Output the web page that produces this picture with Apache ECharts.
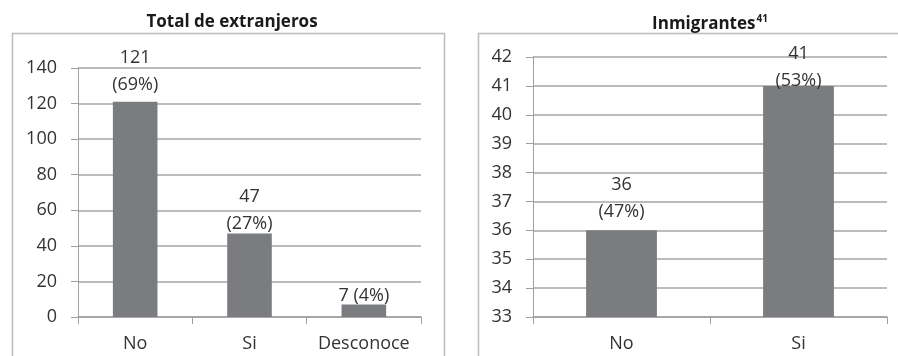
<!DOCTYPE html>
<html>
<head>
<meta charset="utf-8">
<script src="https://cdn.jsdelivr.net/npm/echarts@6/dist/echarts.min.js"></script>
<style>
  html, body { margin: 0; padding: 0; background: #ffffff; }
  #chart { width: 898px; height: 356px; }
</style>
</head>
<body>
<div id="chart"></div>
<script>
// Total de extranjeros
const totalCategories = ['No', 'Si', 'Desconoce'];
const totalValues = [121, 47, 7];
const totalPercents = ['69%', '27%', '4%'];
const totalTicks = { min: 0, max: 140, interval: 20 };

// Inmigrantes
const inmCategories = ['No', 'Si'];
const inmValues = [36, 41];
const inmPercents = ['47%', '53%'];
const inmTicks = { min: 33, max: 42, interval: 1 };

const FONT = 'Open Sans';
const TEXT = '#333333';
const GRID_LINE = '#a6a6a6';
const AXIS_LINE = '#a0a0a0';
const BAR = '#7b7c80';

// label layout: two-line labels except where the value sits low
const totalLabelBreak = ['\n', '\n', ' '];
const totalLabelGap = [3, -4, -5];
const inmLabelBreak = ['\n', '\n'];
const inmLabelGap = [5, -8];

function barData(values, percents, breaks, gaps) {
  return values.map((v, i) => ({
    value: v,
    label: {
      show: true,
      position: 'top',
      distance: gaps[i],
      formatter: v + breaks[i] + '(' + percents[i] + ')'
    }
  }));
}

function yAxis(idx, t) {
  return {
    type: 'value', gridIndex: idx,
    min: t.min, max: t.max, interval: t.interval,
    axisLine: { show: true, lineStyle: { color: AXIS_LINE, width: 1 } },
    axisTick: { show: true, length: 7, lineStyle: { color: AXIS_LINE } },
    axisLabel: { color: TEXT, fontFamily: FONT, fontSize: 18, margin: 21 },
    splitLine: { show: true, lineStyle: { color: GRID_LINE, width: 1.5 } }
  };
}

function xAxis(idx, cats) {
  return {
    type: 'category', gridIndex: idx, data: cats,
    axisLine: { show: true, lineStyle: { color: AXIS_LINE, width: 1.5 } },
    axisTick: { show: true, length: 7, lineStyle: { color: AXIS_LINE } },
    axisLabel: { color: TEXT, fontFamily: FONT, fontSize: 18, margin: 18, interval: 0 }
  };
}

const labelStyle = {
  color: TEXT, fontFamily: FONT, fontSize: 18, lineHeight: 27
};

const chart = echarts.init(document.getElementById('chart'), null, { renderer: 'canvas' });
chart.setOption({
  animation: false,
  backgroundColor: '#ffffff',
  title: [
    {
      text: 'Total de extranjeros',
      left: 227, top: 9, textAlign: 'center',
      textStyle: { fontFamily: FONT, fontSize: 17, fontWeight: 'bold', color: '#1a1a1a' }
    },
    {
      text: '{a|Inmigrantes}{s|41}',
      left: 705, top: 9, textAlign: 'center',
      textStyle: {
        rich: {
          a: { fontFamily: FONT, fontSize: 17, fontWeight: 'bold', color: '#1a1a1a' },
          s: { fontFamily: FONT, fontSize: 10, fontWeight: 'bold', color: '#1a1a1a', padding: [0, 0, 10, 1] }
        }
      }
    }
  ],
  graphic: [
    { type: 'rect', shape: { x: 12.5, y: 33.5, width: 432, height: 340 },
      style: { fill: 'none', stroke: '#bdbdbd', lineWidth: 1.5 }, silent: true },
    { type: 'rect', shape: { x: 478.5, y: 33.5, width: 430, height: 340 },
      style: { fill: 'none', stroke: '#bdbdbd', lineWidth: 1.5 }, silent: true }
  ],
  grid: [
    { left: 78, right: 477, top: 68, bottom: 39 },
    { left: 533, right: 11, top: 57, bottom: 39 }
  ],
  xAxis: [xAxis(0, totalCategories), xAxis(1, inmCategories)],
  yAxis: [yAxis(0, totalTicks), yAxis(1, inmTicks)],
  series: [
    {
      type: 'bar', xAxisIndex: 0, yAxisIndex: 0,
      data: barData(totalValues, totalPercents, totalLabelBreak, totalLabelGap),
      barWidth: '39%',
      itemStyle: { color: BAR },
      label: labelStyle
    },
    {
      type: 'bar', xAxisIndex: 1, yAxisIndex: 1,
      data: barData(inmValues, inmPercents, inmLabelBreak, inmLabelGap),
      barWidth: '40%',
      itemStyle: { color: BAR },
      label: labelStyle
    }
  ]
});
</script>
</body>
</html>
